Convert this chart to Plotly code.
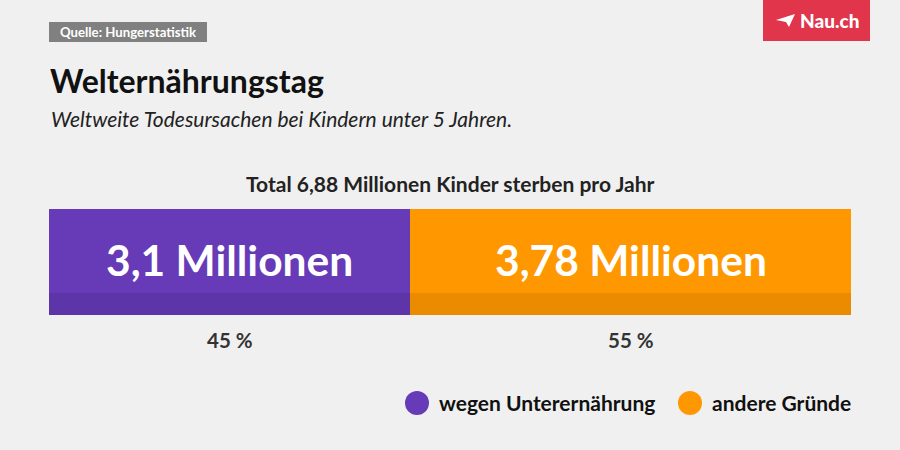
import plotly.graph_objects as go

# ---- data ----
categories = ["wegen Unterernährung", "andere Gründe"]
values = [3.1, 3.78]            # Millionen
bar_labels = ["3,1 Millionen", "3,78 Millionen"]
pct_labels = ["45 %", "55 %"]
colors = ["#673ab7", "#ff9800"]

title = "Welternährungstag"
subtitle = "Weltweite Todesursachen bei Kindern unter 5 Jahren."
bar_title = "Total 6,88 Millionen Kinder sterben pro Jahr"
source = "Quelle: Hungerstatistik"

W, H = 900, 450
total = sum(values)


def X(px):
    return px / W


def Y(py):
    return 1 - py / H


FONT = "Lato"
fig = go.Figure()

for i, (cat, v) in enumerate(zip(categories, values)):
    fig.add_trace(go.Bar(
        y=[0], x=[v], orientation="h", name=cat,
        marker=dict(color=colors[i], line=dict(width=0)),
        width=1,
        hoverinfo="skip", showlegend=False,
    ))

shapes = []
annotations = []

# darker bottom band on the bar
shapes.append(dict(type="rect", xref="x", yref="paper",
                   x0=0, x1=total, y0=Y(315), y1=Y(293),
                   fillcolor="rgba(0,0,0,0.08)", line=dict(width=0), layer="above"))

# value labels inside segments and percentage labels under each segment
cum = 0
for v, lab, p in zip(values, bar_labels, pct_labels):
    mid = cum + v / 2
    cum += v
    annotations.append(dict(x=mid, y=Y(259.5), xref="x", yref="paper", text=lab,
                            showarrow=False, xanchor="center", yanchor="middle",
                            font=dict(family=FONT, size=42.5, color="white", weight=700)))
    annotations.append(dict(x=mid, y=Y(339.5), xref="x", yref="paper", text=p,
                            showarrow=False, xanchor="center", yanchor="middle",
                            font=dict(family=FONT, size=20.5, color="#333333", weight=700)))

# source tag
shapes.append(dict(type="rect", xref="paper", yref="paper",
                   x0=X(49), x1=X(207), y0=Y(42), y1=Y(22),
                   fillcolor="#808080", line=dict(width=0)))
annotations.append(dict(x=X(128), y=Y(32.5), xref="paper", yref="paper", text=source,
                        showarrow=False, xanchor="center", yanchor="middle",
                        font=dict(family=FONT, size=13.2, color="white", weight=700)))

# title + subtitle
annotations.append(dict(x=X(48), y=Y(80), xref="paper", yref="paper", text=title,
                        showarrow=False, xanchor="left", yanchor="middle",
                        font=dict(family=FONT, size=32, color="#111111", weight=700)))
annotations.append(dict(x=X(49), y=Y(118), xref="paper", yref="paper", text=subtitle,
                        showarrow=False, xanchor="left", yanchor="middle",
                        font=dict(family=FONT, size=21, color="#222222", style="italic")))

# bar title
annotations.append(dict(x=X(450), y=Y(183), xref="paper", yref="paper", text=bar_title,
                        showarrow=False, xanchor="center", yanchor="middle",
                        font=dict(family=FONT, size=21, color="#222222", weight=700)))

# legend (circles + labels)
leg_x = [417, 690]
for cx, c, cat in zip(leg_x, colors, categories):
    r = 12
    shapes.append(dict(type="circle", xref="paper", yref="paper",
                       x0=X(cx - r), x1=X(cx + r), y0=Y(403 + r), y1=Y(403 - r),
                       fillcolor=c, line=dict(width=0)))
    annotations.append(dict(x=X(cx + 20), y=Y(402), xref="paper", yref="paper", text=cat,
                            showarrow=False, xanchor="left", yanchor="middle",
                            font=dict(family=FONT, size=21, color="#111111", weight=700)))

# logo
shapes.append(dict(type="rect", xref="paper", yref="paper",
                   x0=X(763), x1=X(870), y0=Y(41), y1=Y(0),
                   fillcolor="#e0354b", line=dict(width=0)))
plane = [(776, 20), (795, 14), (789, 27), (786, 22)]
path = "M " + " L ".join(f"{X(a):.5f},{Y(b):.5f}" for a, b in plane) + " Z"
shapes.append(dict(type="path", xref="paper", yref="paper", path=path,
                   fillcolor="white", line=dict(width=0)))
annotations.append(dict(x=X(798), y=Y(21), xref="paper", yref="paper", text="Nau.ch",
                        showarrow=False, xanchor="left", yanchor="middle",
                        font=dict(family=FONT, size=19, color="white", weight=900)))

fig.update_layout(
    width=W, height=H,
    margin=dict(l=0, r=0, t=0, b=0),
    paper_bgcolor="#f0f0f0", plot_bgcolor="rgba(0,0,0,0)",
    barmode="stack", bargap=0,
    xaxis=dict(domain=[X(49), X(851)], range=[0, total], visible=False, fixedrange=True),
    yaxis=dict(domain=[Y(315), Y(209)], range=[-0.5, 0.5], visible=False, fixedrange=True),
    shapes=shapes, annotations=annotations,
)

fig.write_html("out.html", config={"displayModeBar": False},
               post_script="document.body.style.margin='0';document.body.style.overflow='hidden';")
